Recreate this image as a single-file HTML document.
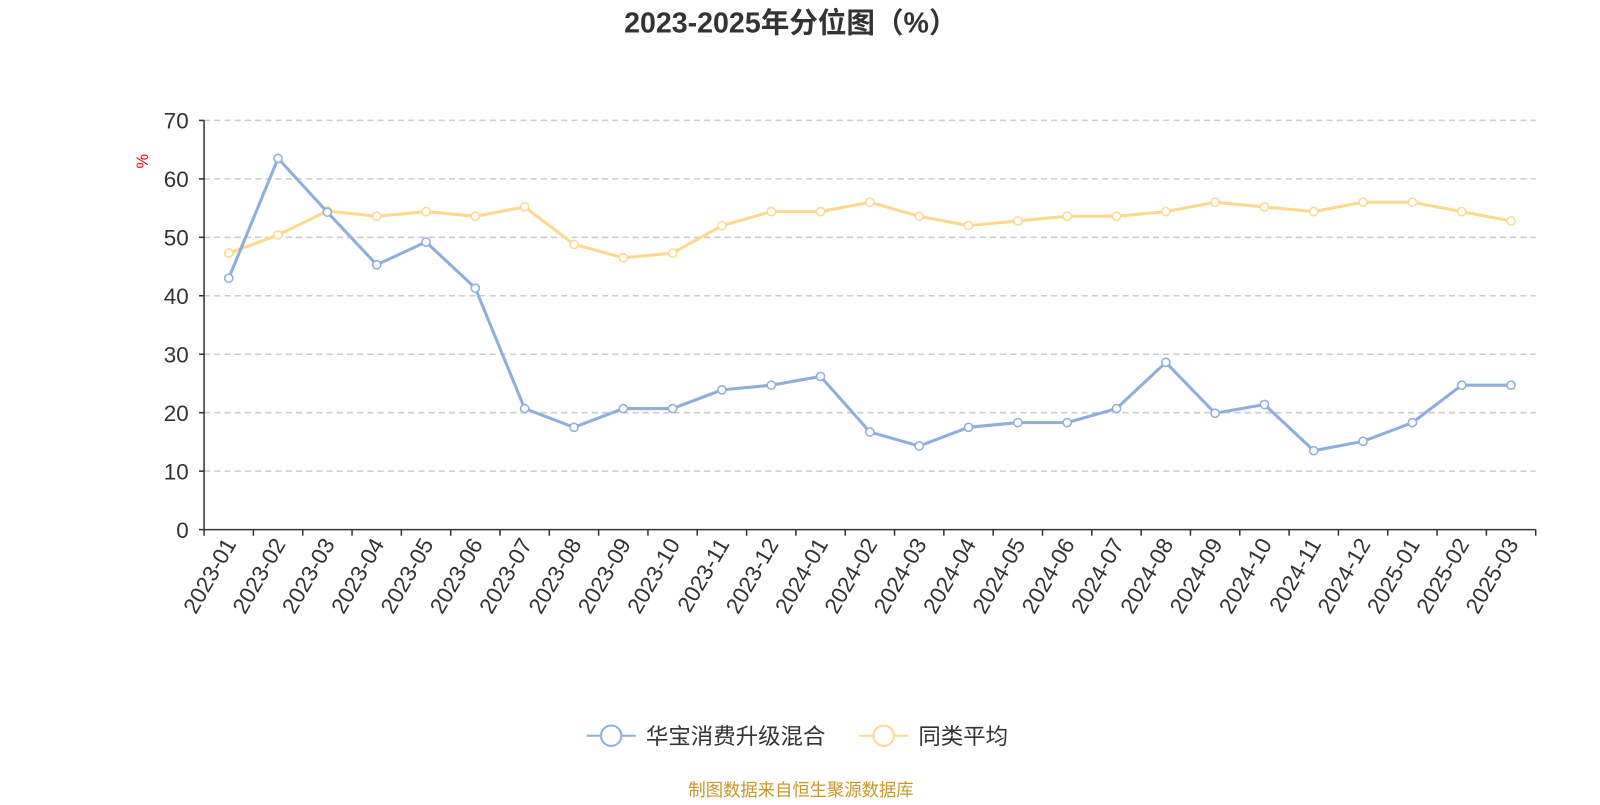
<!DOCTYPE html>
<html><head><meta charset="utf-8"><style>
body{margin:0;background:#fff;width:1600px;height:800px;overflow:hidden;font-family:"Liberation Sans","Noto Sans CJK SC",sans-serif}
</style></head><body>
<svg width="1600" height="800" font-family="Liberation Sans, Noto Sans CJK SC, sans-serif"><g id="c" transform="scale(1.0204)"></g></svg>
<script>
const categories=["2023-01","2023-02","2023-03","2023-04","2023-05","2023-06","2023-07","2023-08","2023-09","2023-10","2023-11","2023-12","2024-01","2024-02","2024-03","2024-04","2024-05","2024-06","2024-07","2024-08","2024-09","2024-10","2024-11","2024-12","2025-01","2025-02","2025-03"];
const fundValues=[43,63.5,54.3,45.3,49.2,41.3,20.7,17.5,20.7,20.7,23.9,24.7,26.2,16.7,14.3,17.5,18.3,18.3,20.7,28.6,19.9,21.4,13.5,15.1,18.3,24.7,24.7];
const avgValues=[47.3,50.4,54.5,53.6,54.4,53.6,55.2,48.8,46.5,47.3,52.0,54.4,54.4,56.0,53.6,52.0,52.8,53.6,53.6,54.4,56.0,55.2,54.4,56.0,56.0,54.4,52.8];
const yTicks=[0,10,20,30,40,50,60,70];
const seriesNames=["华宝消费升级混合","同类平均"];
const svg=document.getElementById('c');const NS='http://www.w3.org/2000/svg';
function mk(t,a,p){const e=document.createElementNS(NS,t);for(const k in a)e.setAttribute(k,a[k]);(p||svg).appendChild(e);return e;}
const x0=200,x1=1505,y0=519,y1=118;const bw=(x1-x0)/categories.length;
const xs=i=>x0+bw*(i+0.5);const ys=v=>y0-(v/70)*(y0-y1);
let t=mk('text',{x:775,y:32,'text-anchor':'middle','font-size':28,'font-weight':'bold',fill:'#333'});t.textContent='2023-2025年分位图（%）';

yTicks.forEach(v=>{
 if(v>0){const l=mk('line',{x1:x0,x2:x1,y1:ys(v),y2:ys(v),stroke:'#ccc','stroke-dasharray':'6,4','stroke-width':1.5});}
 const tx=mk('text',{x:185,y:ys(v)+8,'text-anchor':'end','font-size':22,fill:'#333'});tx.textContent=v;
 
 mk('line',{x1:195,x2:x0,y1:ys(v),y2:ys(v),stroke:'#333','stroke-width':1.5});
});
let u=mk('text',{x:145,y:158,'text-anchor':'middle','font-size':16,fill:'red',transform:'rotate(-90 145 158)'});u.textContent='%';

mk('line',{x1:x0,x2:x0,y1:y1,y2:y0,stroke:'#333','stroke-width':1.5});
mk('line',{x1:x0,x2:x1,y1:y0,y2:y0,stroke:'#333','stroke-width':1.5});
categories.forEach((c,i)=>{
 mk('line',{x1:x0+bw*i,x2:x0+bw*i,y1:y0,y2:y0+6,stroke:'#333','stroke-width':1.5});
 const tx=mk('text',{x:xs(i)+8,y:y0+14,'text-anchor':'end','font-size':22,fill:'#333',transform:`rotate(-60 ${xs(i)+8} ${y0+14})`});tx.textContent=c;
 
});
mk('line',{x1:x1,x2:x1,y1:y0,y2:y0+6,stroke:'#333','stroke-width':1.5});
function series(vals,color,name){
 const p=mk('polyline',{points:vals.map((v,i)=>xs(i)+','+ys(v)).join(' '),fill:'none',stroke:color,'stroke-width':3});
 
 vals.forEach((v,i)=>{const c=mk('circle',{cx:xs(i),cy:ys(v),r:4,fill:'#fff',stroke:color,'stroke-width':1.5});
 });
}
series(avgValues,'#fdd88f','avg');
series(fundValues,'#8eaedc','fund');
[[575,'#8eaedc',0],[842,'#fdd88f',1]].forEach(([lx,col,k])=>{
 const g=mk('g',{});
 mk('line',{x1:lx,x2:lx+48,y1:721,y2:721,stroke:col,'stroke-width':2},g);
 mk('circle',{cx:lx+24,cy:721,r:10,fill:'#fff',stroke:col,'stroke-width':2},g);
 const tx=mk('text',{x:lx+58,y:729,'font-size':22,fill:'#333'},g);tx.textContent=seriesNames[k];
});
let f=mk('text',{x:785,y:780,'text-anchor':'middle','font-size':17,fill:'#c8962a'});f.textContent='制图数据来自恒生聚源数据库';

</script>
</body></html>
